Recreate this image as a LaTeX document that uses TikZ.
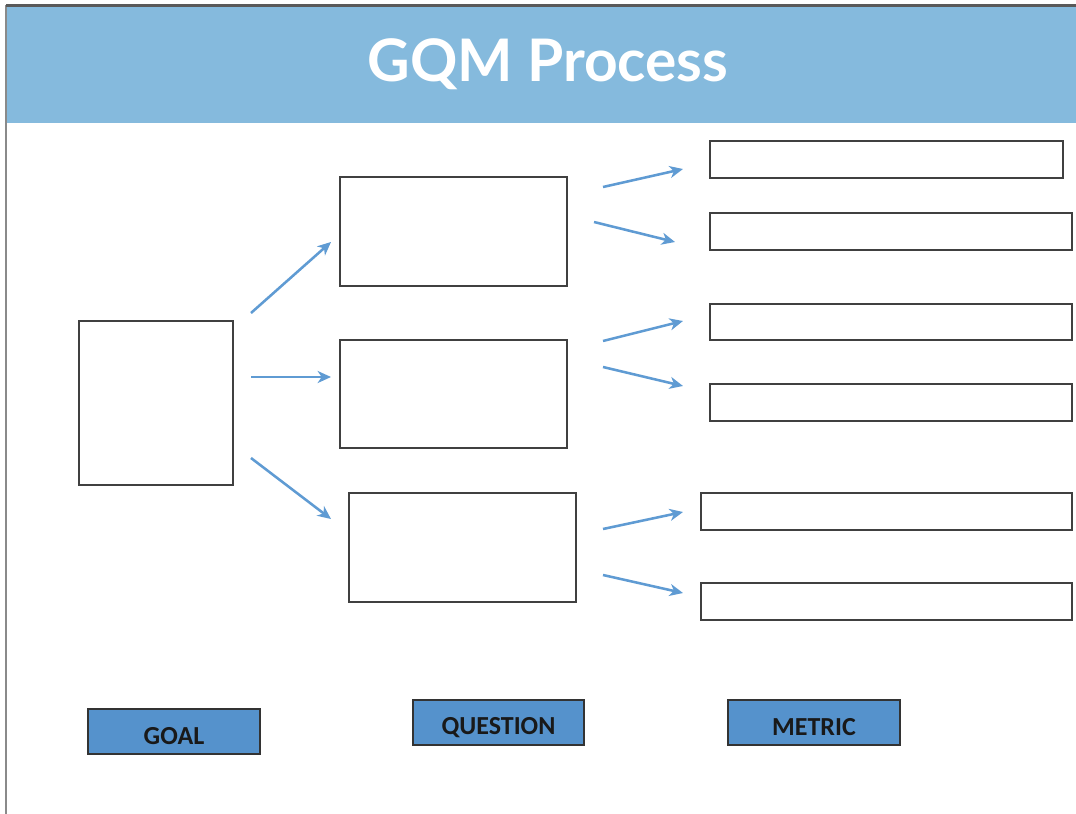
\documentclass[tikz,border=0pt]{standalone}
\usepackage{fontspec}
\newfontfamily\titlefont{Lato}
\newfontfamily\labelfont{Carlito}
\usetikzlibrary{arrows.meta}
\definecolor{headerblue}{HTML}{85BADD}
\definecolor{tagblue}{HTML}{5592CC}
\definecolor{arrowblue}{HTML}{5F9BD3}
\definecolor{boxline}{HTML}{404040}
\definecolor{frameline}{HTML}{8A8A8A}
\tikzset{
  box/.style={draw=boxline, line width=1.5pt, fill=white, inner sep=0pt, outer sep=0pt, rectangle},
  tag/.style={draw=black!80, line width=1.5pt, fill=tagblue, inner sep=0pt, outer sep=0pt,
    font=\labelfont\bfseries\fontsize{19.5}{22}\selectfont, text=black!90},
  tagtext/.style={font=\labelfont\bfseries\fontsize{19.5}{22}\selectfont, text=black!90, inner sep=0pt},
  flow/.style={draw=arrowblue, line width=1.9pt, -{Stealth[length=10pt,width=9pt,inset=3pt]}},
}
\begin{document}
\begin{tikzpicture}[x=0.75pt, y=-0.75pt]
  \useasboundingbox (0,0) rectangle (1076,814);
  \fill[white] (0,0) rectangle (1076,814);
  % header band with frame lines
  \fill[headerblue] (7,6) rectangle (1076,123);
  \draw[frameline, line width=1.6pt] (6,5) -- (6,814);
  \draw[black!65, line width=1.6pt] (6,5.5) -- (1076,5.5);
  \node[font=\titlefont\bfseries\fontsize{44}{48}\selectfont, text=white] (title) at (548,64) {GQM Process};

  % goal
  \node[box, minimum width=154*0.75pt, minimum height=164*0.75pt, anchor=north west] (goal) at (79,321) {};
  % questions
  \node[box, minimum width=227*0.75pt, minimum height=109*0.75pt, anchor=north west] (q1) at (340,177) {};
  \node[box, minimum width=227*0.75pt, minimum height=108*0.75pt, anchor=north west] (q2) at (340,340) {};
  \node[box, minimum width=227*0.75pt, minimum height=109*0.75pt, anchor=north west] (q3) at (349,493) {};
  % metrics
  \node[box, minimum width=353*0.75pt, minimum height=37*0.75pt, anchor=north west] (m1) at (710,141) {};
  \node[box, minimum width=362*0.75pt, minimum height=37*0.75pt, anchor=north west] (m2) at (710,213) {};
  \node[box, minimum width=362*0.75pt, minimum height=36*0.75pt, anchor=north west] (m3) at (710,304) {};
  \node[box, minimum width=362*0.75pt, minimum height=37*0.75pt, anchor=north west] (m4) at (710,384) {};
  \node[box, minimum width=371*0.75pt, minimum height=37*0.75pt, anchor=north west] (m5) at (701,493) {};
  \node[box, minimum width=371*0.75pt, minimum height=37*0.75pt, anchor=north west] (m6) at (701,583) {};

  % arrow end points in the gaps between the columns
  \coordinate (g1s) at (251,313); \coordinate (g1e) at (331,242);
  \coordinate (g2s) at (251,377); \coordinate (g2e) at (331,377);
  \coordinate (g3s) at (251,458); \coordinate (g3e) at (331,519);
  \coordinate (a1s) at (603,187); \coordinate (a1e) at (683,169);
  \coordinate (a2s) at (594,222); \coordinate (a2e) at (675,242);
  \coordinate (a3s) at (603,341); \coordinate (a3e) at (683,321);
  \coordinate (a4s) at (603,367); \coordinate (a4e) at (683,386);
  \coordinate (a5s) at (603,529); \coordinate (a5e) at (683,512);
  \coordinate (a6s) at (603,575); \coordinate (a6e) at (683,593);
  \draw[flow] (g1s) -- (g1e);
  \draw[flow] (g2s) -- (g2e);
  \draw[flow] (g3s) -- (g3e);
  \draw[flow] (a1s) -- (a1e);
  \draw[flow] (a2s) -- (a2e);
  \draw[flow] (a3s) -- (a3e);
  \draw[flow] (a4s) -- (a4e);
  \draw[flow] (a5s) -- (a5e);
  \draw[flow] (a6s) -- (a6e);

  % column labels, text sitting a little below the middle of each tag
  \node[tag, minimum width=172*0.75pt, minimum height=45*0.75pt, anchor=north west] (goaltag) at (88,709) {};
  \node[tag, minimum width=171*0.75pt, minimum height=45*0.75pt, anchor=north west] (questiontag) at (413,700) {};
  \node[tag, minimum width=172*0.75pt, minimum height=45*0.75pt, anchor=north west] (metrictag) at (728,700) {};
  \node[tagtext] (goaltext) at ([yshift=-3.5pt]goaltag.center) {GOAL};
  \node[tagtext] (questiontext) at ([yshift=-3.5pt]questiontag.center) {QUESTION};
  \node[tagtext] (metrictext) at ([yshift=-3.5pt]metrictag.center) {METRIC};
\end{tikzpicture}
\end{document}
